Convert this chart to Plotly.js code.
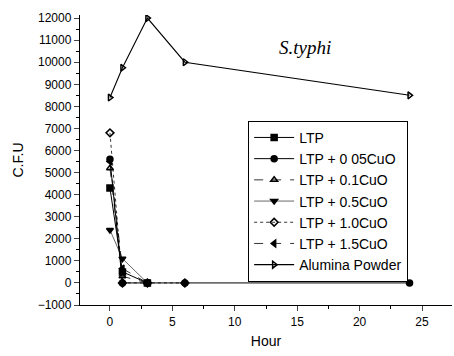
<!DOCTYPE html>
<html>
<head>
<meta charset="utf-8">
<script src="https://cdn.plot.ly/plotly-3.0.1.min.js"></script>
<style>html,body{margin:0;padding:0;background:#fff;}#chart{width:454px;height:356px;}</style>
</head>
<body>
<div id="chart"></div>
<script>
// Data
const seriesNames = ["LTP", "LTP + 0 05CuO", "LTP + 0.1CuO", "LTP + 0.5CuO", "LTP + 1.0CuO", "LTP + 1.5CuO", "Alumina Powder"];
const hoursLTP = [0, 1, 3];
const cfuLTP = [4300, 500, 0];
const hours005 = [0, 1, 3, 6, 24];
const cfu005 = [5600, 0, 0, 0, 0];
const hours01 = [0, 1, 3];
const cfu01 = [5200, 300, 0];
const hours05 = [0, 1, 3];
const cfu05 = [2400, 1100, 0];
const hours10 = [0, 1, 3, 6];
const cfu10 = [6800, 0, 0, 0];
const hours15 = [0, 1, 3];
const cfu15 = [5500, 650, 0];
const hoursAlumina = [0, 1, 3, 6, 24];
const cfuAlumina = [8400, 9750, 12000, 10000, 8500];

const xTickVals = [0, 5, 10, 15, 20, 25];
const yTickVals = [-1000, 0, 1000, 2000, 3000, 4000, 5000, 6000, 7000, 8000, 9000, 10000, 11000, 12000];

const styles = [
  {sym: "square", dash: "solid", w: 1},
  {sym: "circle", dash: "solid", w: 1},
  {sym: "triangle-up-open", dash: "dash", w: 0.8},
  {sym: "triangle-down", dash: "solid", w: 0.6},
  {sym: "diamond-open", dash: "dot", w: 0.8},
  {sym: "triangle-left", dash: "dash", w: 0.8},
  {sym: "triangle-right-open", dash: "solid", w: 1.1}
];
const xs = [hoursLTP, hours005, hours01, hours05, hours10, hours15, hoursAlumina];
const ys = [cfuLTP, cfu005, cfu01, cfu05, cfu10, cfu15, cfuAlumina];

const traces = seriesNames.map((n, i) => ({
  x: xs[i], y: ys[i], name: n, type: "scatter", mode: "lines+markers",
  line: {color: "#000", width: styles[i].w, dash: styles[i].dash},
  marker: {symbol: styles[i].sym, size: 6, color: "#000", line: {color: "#000", width: 1.5}}
}));

const layout = {
  width: 454, height: 356,
  margin: {l: 80, r: 2, t: 15, b: 51},
  paper_bgcolor: "#fff", plot_bgcolor: "#fff",
  font: {family: "Liberation Sans, Arial, sans-serif", color: "#000", size: 12},
  showlegend: true,
  legend: {
    x: 0.452, y: 0.635, xanchor: "left", yanchor: "top",
    bordercolor: "#000", borderwidth: 1, bgcolor: "#fff",
    font: {size: 14, family: "Liberation Sans, Arial, sans-serif"},
    tracegroupgap: 0, itemwidth: 40
  },
  xaxis: {
    range: [-2.4, 27.4], tickvals: xTickVals, ticks: "outside", ticklen: 5,
    showline: true, linecolor: "#000", linewidth: 1.2, zeroline: false, showgrid: false,
    minor: {dtick: 2.5, ticks: "outside", ticklen: 3, tickcolor: "#000"},
    tickfont: {size: 12},
    title: {text: "Hour", font: {size: 14}, standoff: 8}
  },
  yaxis: {
    range: [-1000, 12140], tickvals: yTickVals, tickformat: "d", ticks: "outside", ticklen: 5,
    showline: true, linecolor: "#000", linewidth: 1.2, zeroline: false, showgrid: false,
    minor: {dtick: 500, ticks: "outside", ticklen: 3, tickcolor: "#000"},
    tickfont: {size: 12},
    title: {text: "C.F.U", font: {size: 14}, standoff: 10}
  },
  annotations: [{
    text: "<i>S.typhi</i>", xref: "paper", yref: "paper", x: 0.605, y: 0.93,
    showarrow: false, font: {family: "Liberation Serif, Times New Roman, serif", size: 19, color: "#000"}
  }]
};

Plotly.newPlot("chart", traces, layout, {displayModeBar: false, staticPlot: true});
</script>
</body>
</html>
